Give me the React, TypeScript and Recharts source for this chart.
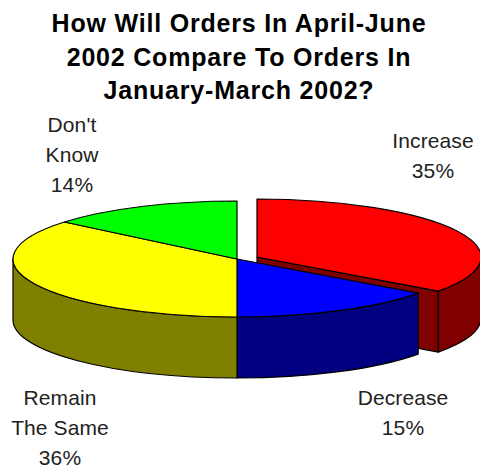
import React from "react";
import { PieChart, Pie, Cell } from "recharts";

const titleLines = [
  "How Will Orders In April-June",
  "2002 Compare To Orders In",
  "January-March 2002?",
];
const categories = ["Increase", "Decrease", "Remain The Same", "Don't Know"];
const values = [35, 15, 36, 14];
const topColors = ["#FF0000", "#0000FF", "#FFFF00", "#00FF00"];
const sideColors = ["#800000", "#000080", "#808000", "#008000"];
const labelLines = [["Increase"], ["Decrease"], ["Remain", "The Same"], ["Don't", "Know"]];

// text block centre x / first baseline y
const labelAnchors = [
  { x: 433, y: 148 },
  { x: 403, y: 405 },
  { x: 60, y: 405 },
  { x: 72, y: 132 },
];

const data = categories.map((name, i) => ({ name, value: values[i] }));

const RX = 224;
const RY = 58;
const DEPTH = 61;
const EXPLODE_X = 20;
const EXPLODE_Y = -2;

const rad = (deg: number) => (deg * Math.PI) / 180;

// one slice of the tilted pie: outer wall, cut wall, then the top face
const Slice3D = (props: any) => {
  const { startAngle, endAngle, cx, cy, fill, index } = props;
  const exploded = categories[index] === "Increase";
  const ox = cx + (exploded ? EXPLODE_X : 0);
  const oy = cy + (exploded ? EXPLODE_Y : 0);
  const hi = Math.max(startAngle, endAngle);
  const lo = Math.min(startAngle, endAngle);
  const px = (a: number) => ox + RX * Math.cos(rad(a));
  const py = (a: number) => oy - RY * Math.sin(rad(a));

  const top = `M${ox},${oy} L${px(hi)},${py(hi)} A${RX},${RY} 0 ${hi - lo > 180 ? 1 : 0} 1 ${px(lo)},${py(lo)} Z`;

  // only the part of the rim facing the viewer has a wall
  const wallHi = Math.min(hi, 0);
  const wallLo = Math.max(lo, -180);
  const wall =
    wallHi > wallLo
      ? `M${px(wallHi)},${py(wallHi)} A${RX},${RY} 0 0 1 ${px(wallLo)},${py(wallLo)} L${px(wallLo)},${py(wallLo) + DEPTH} A${RX},${RY} 0 0 0 ${px(wallHi)},${py(wallHi) + DEPTH} Z`
      : null;
  const cut = exploded
    ? `M${ox},${oy} L${px(lo)},${py(lo)} L${px(lo)},${py(lo) + DEPTH} L${ox},${oy + DEPTH} Z`
    : null;
  const dark = sideColors[index];

  return (
    <g stroke="#000" strokeWidth={1.2} strokeLinejoin="round">
      {cut && <path d={cut} fill={dark} />}
      {wall && <path d={wall} fill={dark} />}
      <path d={top} fill={fill} />
    </g>
  );
};

const renderLabel = ({ index }: any) => {
  const anchor = labelAnchors[index];
  const lines = [...labelLines[index], `${values[index]}%`];
  return (
    <text
      key={index}
      textAnchor="middle"
      fontFamily="Liberation Sans"
      fontSize={21}
      letterSpacing={0.1}
      fill="#222"
      stroke="none"
    >
      {lines.map((line, i) => (
        <tspan key={line} x={anchor.x} y={anchor.y + i * 30}>
          {line}
        </tspan>
      ))}
    </text>
  );
};

export default function App() {
  return (
    <div style={{ position: "absolute", left: 0, top: 0, width: 480, height: 468, background: "#fff" }}>
      <PieChart width={480} height={468} margin={{ top: 0, right: 0, bottom: 0, left: 0 }}>
        <text
          textAnchor="middle"
          fontFamily="Liberation Sans"
          fontWeight="bold"
          fontSize={25}
          letterSpacing={0.8}
          fill="#000"
        >
          {titleLines.map((line, i) => (
            <tspan key={line} x={239} y={32 + i * 33.5}>
              {line}
            </tspan>
          ))}
        </text>
        <Pie
          data={data}
          dataKey="value"
          nameKey="name"
          cx={237}
          cy={259}
          outerRadius={RX}
          startAngle={90}
          endAngle={-270}
          paddingAngle={0}
          stroke="none"
          shape={Slice3D}
          label={renderLabel}
          labelLine={false}
          isAnimationActive={false}
        >
          {data.map((d, i) => (
            <Cell key={d.name} fill={topColors[i]} />
          ))}
        </Pie>
      </PieChart>
    </div>
  );
}
